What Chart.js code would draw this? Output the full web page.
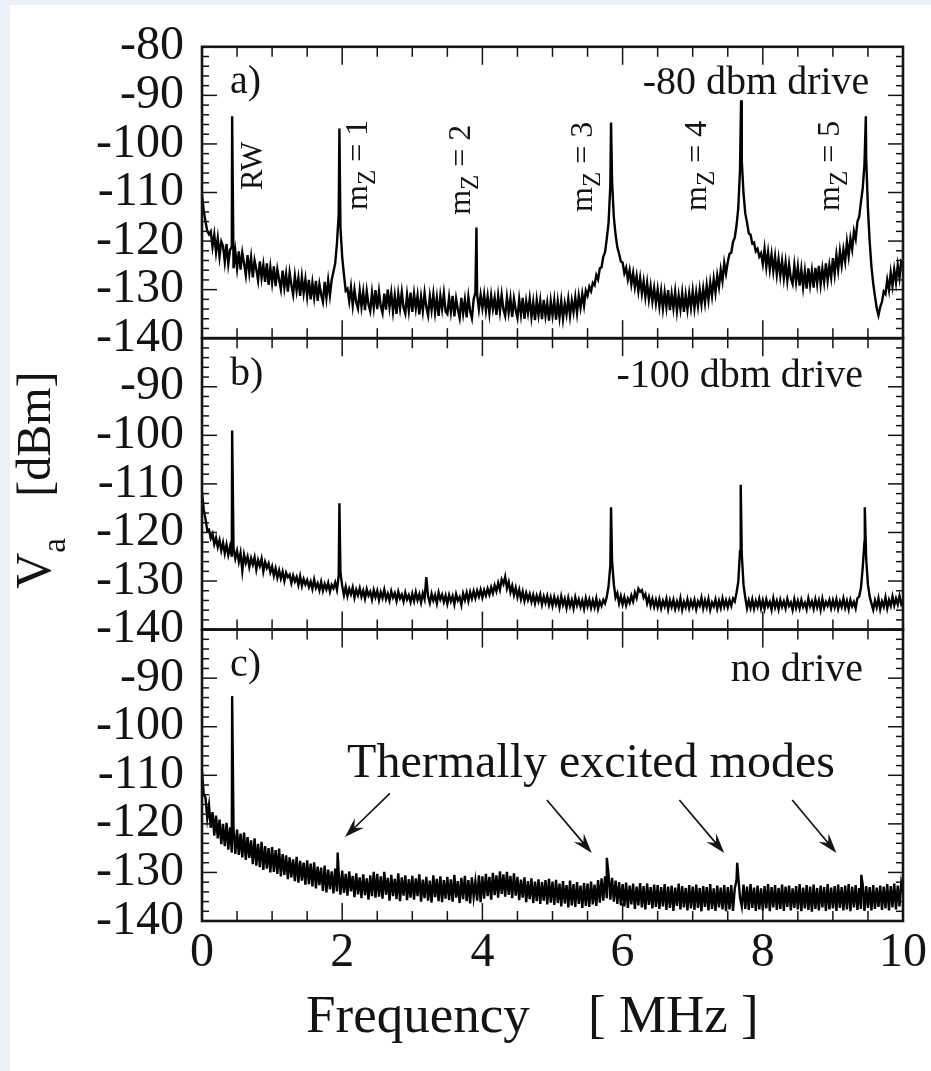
<!DOCTYPE html>
<html>
<head>
<meta charset="utf-8">
<title>Spectrum analyser traces</title>
<script src="https://cdn.jsdelivr.net/npm/chart.js@4.4.1/dist/chart.umd.min.js"></script>
<style>
  html, body { margin: 0; padding: 0; background: #eaf1f9; }
  #sheet { position: absolute; left: 10px; top: 5px; width: 921px; height: 1066px; background: #fff; }
  #wrap { position: absolute; left: 0; top: 0; width: 931px; height: 1071px; }
</style>
</head>
<body>
<div id="sheet"></div>
<div id="wrap"><canvas id="spectra" width="931" height="1071"></canvas></div>
<script>
// frequency axis, MHz: one sample every FREQ_STEP, 0 .. 10
const FREQ_STEP = 0.025;
const xTicks = [0, 2, 4, 6, 8, 10];
const yTicks = [-140, -130, -120, -110, -100, -90, -80];

// a) -80 dbm drive, level in dBm (one row = 0.5 MHz)
const levelA = [
  -110.5, -113.8, -116.0, -117.9, -118.6, -118.0, -121.2, -118.7, -122.3, -119.4, -123.2, -120.1, -121.0, -124.3, -120.6, -124.7, -121.8, -121.2, -125.6, -122.1,
  -125.6, -122.1, -125.9, -122.4, -124.6, -127.0, -122.9, -126.5, -123.4, -127.5, -124.0, -125.8, -128.1, -124.2, -127.6, -124.9, -128.4, -124.6, -129.0, -125.4,
  -128.6, -125.2, -129.3, -125.8, -127.9, -129.9, -126.1, -129.6, -126.8, -130.4, -126.5, -129.0, -131.0, -127.2, -130.2, -127.6, -131.3, -127.4, -130.7, -127.9,
  -131.4, -128.0, -132.0, -128.6, -131.6, -128.2, -132.3, -128.9, -131.0, -132.5, -128.4, -131.7, -128.1, -131.2, -128.0, -126.3, -124.6, -120.5, -114.5, -117.2,
  -123.3, -126.9, -130.2, -129.8, -132.4, -129.5, -133.2, -130.0, -132.6, -133.9, -130.2, -133.5, -130.5, -134.2, -130.3, -133.0, -134.4, -130.6, -133.7, -130.1,
  -134.0, -130.4, -133.4, -134.8, -130.8, -134.1, -130.0, -133.6, -130.7, -134.5, -131.3, -135.0, -130.9, -133.8, -130.5, -133.7, -134.9, -131.1, -134.3, -130.6,
  -134.6, -130.9, -133.9, -131.2, -135.1, -131.5, -134.4, -130.7, -133.6, -135.3, -131.4, -134.2, -131.0, -134.7, -131.7, -135.4, -131.3, -134.0, -130.8, -134.5,
  -135.0, -131.6, -134.6, -131.3, -135.5, -131.9, -134.1, -135.8, -131.7, -134.9, -132.1, -135.7, -131.5, -134.4, -135.9, -132.0, -130.6, -131.0, -134.0, -131.1,
  -133.8, -131.0, -134.3, -131.4, -134.8, -131.2, -134.0, -131.7, -135.2, -131.3, -134.5, -131.1, -134.1, -135.4, -131.6, -134.7, -131.8, -135.6, -131.9, -134.2,
  -135.8, -132.0, -135.1, -131.7, -136.0, -132.4, -134.8, -131.9, -135.6, -132.6, -136.3, -132.2, -135.2, -132.3, -136.1, -132.1, -135.4, -132.8, -136.4, -132.4,
  -135.3, -132.2, -136.2, -132.5, -135.7, -132.3, -136.0, -132.9, -135.1, -132.0, -135.4, -132.3, -134.6, -131.6, -134.8, -131.3, -133.7, -130.9, -133.3, -130.2,
  -131.2, -129.4, -130.3, -128.6, -129.1, -127.0, -127.9, -125.6, -125.4, -123.2, -122.3, -119.4, -116.2, -108.5, -107.8, -115.1, -118.7, -121.3, -122.6, -124.2,
  -124.4, -126.6, -125.5, -127.9, -126.0, -128.9, -126.6, -129.5, -127.2, -130.3, -127.6, -130.8, -128.3, -131.5, -128.6, -132.0, -129.3, -132.4, -129.7, -132.8,
  -130.0, -133.4, -130.3, -133.9, -130.6, -133.6, -130.1, -134.2, -130.9, -133.8, -130.5, -134.4, -131.2, -134.0, -130.7, -134.6, -131.1, -134.1, -130.8, -133.7,
  -130.3, -133.8, -130.6, -133.4, -130.0, -133.0, -129.8, -132.7, -129.1, -132.1, -128.6, -131.3, -127.8, -130.6, -127.1, -129.4, -125.9, -128.2, -124.5, -126.7,
  -124.3, -122.6, -122.4, -120.2, -119.3, -116.8, -113.2, -105.3, -103.4, -110.2, -114.3, -116.2, -118.4, -118.7, -120.5, -120.3, -122.1, -121.6, -123.2, -122.5,
  -124.7, -121.6, -125.3, -122.3, -125.8, -122.8, -126.2, -123.2, -126.9, -123.7, -127.1, -124.1, -127.6, -124.4, -128.1, -124.8, -127.7, -128.8, -125.0, -128.4,
  -125.3, -129.2, -125.8, -129.5, -126.2, -129.8, -125.6, -129.0, -126.1, -129.6, -125.5, -128.7, -125.1, -128.9, -125.7, -128.4, -124.6, -128.1, -125.0, -127.5,
  -123.5, -126.8, -122.9, -125.9, -122.1, -125.0, -121.8, -124.2, -120.2, -123.1, -119.5, -121.7, -118.0, -119.6, -116.0, -115.0, -112.0, -109.2, -104.3, -103.0,
  -113.4, -120.2, -125.3, -128.7, -131.4, -133.8, -135.3, -133.6, -132.5, -130.4, -130.9, -128.0, -130.1, -126.5, -129.2, -125.9, -128.5, -125.0, -127.6, -124.1,
  -124.5
];
// narrow peak tops [MHz, dBm]: RW, mZ = 1..5
const spikesA = [[0.43, -94.3], [1.96, -96.8], [3.915, -117.2], [5.835, -95.6], [7.69, -91.0], [9.47, -94.3]];

// b) -100 dbm drive
const levelB = [
  -111.8, -115.3, -117.2, -119.6, -119.4, -121.2, -120.3, -122.4, -121.1, -123.0, -121.6, -123.7, -122.1, -124.3, -122.5, -124.6, -122.9, -125.0, -123.3, -125.4,
  -123.8, -126.0, -124.2, -127.9, -124.6, -126.3, -125.0, -127.1, -125.3, -126.6, -125.1, -127.6, -125.7, -126.9, -125.4, -128.0, -126.1, -127.3, -126.4, -128.2,
  -127.0, -128.9, -127.4, -129.3, -127.8, -129.5, -128.1, -130.0, -128.3, -129.2, -128.7, -130.4, -128.9, -130.1, -129.2, -130.8, -129.0, -131.0, -129.6, -130.7,
  -129.8, -131.2, -130.1, -131.6, -129.7, -131.4, -130.5, -131.9, -130.2, -132.0, -130.6, -131.7, -130.4, -132.2, -130.8, -131.5, -130.3, -131.8, -128.9, -128.3,
  -131.0, -132.9, -131.2, -133.1, -131.6, -132.7, -131.3, -133.4, -131.8, -132.9, -131.5, -133.2, -132.0, -133.6, -131.7, -133.0, -132.2, -133.8, -131.9, -133.3,
  -132.0, -133.9, -132.3, -133.5, -131.8, -133.7, -132.6, -134.0, -132.1, -133.4, -132.5, -134.1, -132.2, -133.6, -132.8, -134.2, -132.4, -133.8, -132.9, -134.3,
  -132.6, -134.1, -132.3, -133.9, -132.7, -134.4, -132.5, -133.7, -129.2, -133.2, -134.5, -132.6, -134.0, -132.9, -134.6, -132.4, -133.8, -132.8, -134.3, -133.0,
  -134.7, -132.9, -134.2, -133.1, -134.8, -132.7, -134.0, -133.3, -134.9, -132.6, -133.9, -132.4, -134.1, -132.3, -133.6, -132.1, -133.5, -132.0, -133.2, -131.8,
  -133.4, -131.9, -133.0, -131.6, -132.8, -131.3, -132.5, -130.9, -132.1, -130.4, -131.8, -129.7, -130.6, -129.1, -131.5, -130.2, -132.3, -131.0, -132.9, -131.4,
  -133.3, -131.8, -133.7, -132.2, -134.1, -132.5, -133.9, -132.7, -134.3, -132.9, -134.6, -133.0, -134.2, -132.8, -134.8, -133.2, -134.5, -133.1, -134.9, -133.4,
  -135.1, -133.3, -134.8, -133.6, -135.4, -133.2, -134.9, -133.7, -135.5, -133.5, -135.2, -133.9, -135.6, -133.4, -135.0, -133.8, -135.3, -134.0, -135.7, -133.6,
  -135.2, -133.8, -135.5, -134.0, -135.4, -133.6, -135.7, -134.2, -135.1, -133.9, -134.6, -133.2, -131.0, -126.8, -125.9, -130.7, -133.4, -132.5, -134.6, -133.1,
  -134.8, -133.3, -135.0, -133.6, -134.5, -133.0, -134.2, -132.4, -133.5, -131.6, -132.2, -131.9, -133.4, -132.7, -134.6, -133.3, -135.1, -133.7, -135.3, -133.9,
  -135.4, -133.8, -135.6, -134.1, -135.2, -133.7, -135.8, -134.0, -135.3, -133.9, -135.7, -134.2, -135.5, -133.6, -135.9, -134.3, -135.4, -133.8, -135.6, -134.1,
  -135.3, -133.9, -135.8, -134.2, -135.1, -133.5, -135.6, -134.0, -135.4, -133.7, -135.9, -134.4, -135.2, -133.8, -135.7, -134.1, -135.5, -133.6, -135.3, -134.0,
  -135.4, -133.9, -135.1, -133.6, -134.2, -132.4, -130.2, -123.8, -124.5, -130.8, -133.4, -135.6, -134.0, -135.5, -133.8, -135.7, -134.1, -135.3, -133.7, -135.6,
  -134.0, -135.7, -133.8, -135.2, -134.3, -135.9, -133.6, -135.4, -134.1, -135.8, -133.9, -135.3, -134.2, -135.6, -133.7, -135.1, -134.4, -135.9, -133.8, -135.5,
  -134.1, -135.6, -133.9, -135.3, -134.5, -135.8, -133.6, -135.2, -134.2, -135.7, -133.8, -135.4, -134.0, -135.9, -133.7, -135.5, -134.3, -135.1, -133.9, -135.6,
  -134.0, -135.4, -133.8, -135.7, -134.2, -135.3, -133.6, -135.5, -134.1, -135.8, -133.9, -135.2, -134.3, -135.6, -133.5, -133.2, -131.4, -127.3, -122.0, -125.5,
  -130.8, -133.2, -134.6, -135.9, -134.0, -135.4, -133.6, -135.8, -134.2, -135.3, -133.4, -135.6, -133.9, -135.1, -133.2, -135.0, -133.6, -134.8, -133.1, -134.7,
  -133.8
];
const spikesB = [[0.43, -99.0], [1.96, -114.0], [5.835, -114.8], [7.685, -110.2], [9.455, -114.8]];

// c) no drive
const levelC = [
  -109.2, -114.0, -114.6, -118.9, -116.2, -120.8, -117.6, -122.4, -118.3, -123.0, -119.1, -124.2, -120.0, -124.6, -119.8, -125.3, -120.7, -125.9, -121.0, -126.2,
  -121.2, -126.4, -122.0, -126.9, -121.8, -127.4, -122.7, -127.0, -123.4, -128.3, -123.0, -128.6, -124.1, -128.9, -123.7, -129.5, -124.6, -129.2, -125.0, -130.0,
  -124.8, -129.9, -125.4, -130.3, -125.1, -130.8, -126.2, -130.5, -126.5, -131.4, -126.9, -131.0, -127.3, -131.8, -126.8, -132.1, -127.6, -131.7, -128.0, -132.5,
  -127.5, -132.4, -128.2, -132.9, -127.9, -133.3, -128.8, -132.6, -129.0, -133.8, -128.6, -134.1, -129.4, -133.5, -129.8, -134.3, -129.2, -133.9, -130.1, -134.6,
  -129.6, -134.2, -130.3, -134.8, -129.8, -133.9, -130.7, -135.1, -130.2, -134.5, -131.0, -135.3, -130.4, -134.7, -131.2, -135.6, -130.6, -134.9, -129.9, -135.2,
  -130.3, -135.0, -130.8, -135.4, -129.9, -134.6, -131.1, -135.8, -130.5, -134.9, -131.3, -135.5, -130.2, -135.9, -131.0, -134.8, -130.6, -135.7, -131.4, -135.2,
  -130.7, -135.6, -131.2, -134.9, -130.4, -136.0, -131.5, -135.3, -130.9, -135.8, -131.7, -136.2, -130.6, -135.1, -131.3, -135.9, -130.8, -136.1, -131.6, -135.4,
  -130.9, -135.7, -131.4, -136.0, -130.5, -135.2, -131.8, -136.3, -131.1, -135.5, -130.7, -135.9, -131.6, -136.4, -131.0, -135.0, -131.9, -135.8, -130.6, -136.1,
  -130.8, -135.4, -130.3, -134.9, -130.9, -135.6, -130.1, -134.7, -130.6, -135.2, -129.8, -134.4, -130.4, -135.0, -129.9, -134.6, -130.7, -135.3, -130.2, -134.8,
  -130.9, -135.7, -131.5, -135.2, -131.0, -136.1, -131.8, -135.5, -131.2, -136.3, -131.9, -135.9, -131.4, -136.5, -132.0, -135.8, -131.6, -136.6, -131.3, -136.2,
  -131.9, -136.7, -131.5, -136.3, -132.3, -137.0, -131.8, -136.4, -132.6, -137.2, -131.7, -136.8, -132.4, -137.1, -132.0, -136.5, -132.7, -137.3, -132.2, -136.9,
  -132.3, -137.1, -131.9, -136.6, -132.5, -136.9, -131.6, -136.2, -131.2, -135.8, -130.8, -135.3, -130.5, -135.6, -131.1, -136.0, -131.7, -136.5, -132.0, -136.8,
  -132.4, -137.0, -132.1, -137.3, -132.7, -136.6, -132.3, -137.5, -132.9, -136.8, -132.2, -137.2, -132.8, -137.6, -132.3, -136.7, -133.0, -137.4, -132.5, -137.1,
  -132.6, -137.5, -133.0, -137.0, -132.4, -137.7, -132.9, -137.3, -132.7, -137.9, -133.1, -136.9, -132.3, -137.6, -132.8, -137.2, -133.2, -137.8, -132.6, -137.4,
  -132.9, -137.7, -132.5, -137.3, -133.2, -138.0, -132.8, -137.1, -133.0, -137.8, -132.4, -137.5, -133.3, -137.9, -132.7, -137.2, -133.1, -137.6, -132.6, -138.0,
  -133.0, -137.6, -132.6, -137.9, -133.3, -131.6, -130.9, -135.2, -137.0, -132.5, -137.5, -132.9, -137.7, -132.4, -137.3, -133.1, -137.9, -132.7, -137.6, -133.3,
  -137.8, -132.8, -137.4, -132.4, -138.0, -133.0, -137.2, -132.6, -137.7, -133.2, -137.5, -132.5, -137.9, -132.9, -137.1, -132.7, -137.8, -133.3, -137.3, -132.8,
  -137.6, -132.4, -138.0, -133.1, -137.4, -132.6, -137.7, -132.9, -138.1, -132.5, -137.5, -133.2, -137.8, -132.7, -137.2, -133.0, -137.9, -132.4, -137.6, -133.1,
  -137.4, -132.8, -137.9, -132.5, -137.3, -133.0, -137.8, -132.7, -137.6, -132.4, -138.0, -132.9, -137.2, -132.6, -137.7, -133.2, -137.5, -132.5, -137.9, -132.8,
  -137.3, -133.0, -137.8, -132.6, -137.5, -133.1, -137.1, -132.7, -137.7, -132.9, -137.4, -132.4, -137.8, -132.8, -137.2, -132.3, -137.6, -132.7, -137.0, -132.2,
  -134.0
];
const spikesC = [[0.43, -93.7], [1.935, -125.9], [5.775, -127.0], [7.635, -128.0], [9.405, -130.5]];

const panelNames = ['a)', 'b)', 'c)'];
const driveNames = ['-80 dbm drive', '-100 dbm drive', 'no drive'];
const modeNames = ['RW', '1', '2', '3', '4', '5'];

const Y_MIN = -140, Y_MAX = -80;
const INK = '#141414';
const SERIF = '"Liberation Serif", "DejaVu Serif", serif';

// merge the sampled trace with its peak tops, sorted by frequency
function buildSeries(levels, spikes) {
    const pts = levels.map((v, i) => ({ x: i * FREQ_STEP, y: v }));
    spikes.forEach(([f, v]) => pts.push({ x: f, y: v }));
    return pts.sort((a, b) => a.x - b.x);
}

function panelAxis(hideTop) {
    return {
        type: 'linear',
        position: 'left',
        stack: 'panels',
        stackWeight: 1,
        min: Y_MIN,
        max: Y_MAX,
        offset: false,
        grid: { display: false, drawTicks: false },
        border: { display: false },
        afterBuildTicks: s => { s.ticks = yTicks.map(v => ({ value: v })); },
        ticks: {
            autoSkip: false,
            padding: 18,
            color: INK,
            font: { family: SERIF, size: 48 },
            callback: v => (hideTop && v === Y_MAX) ? '' : String(v)
        },
        afterFit: s => { s.width = 202; }
    };
}

// layout of the text and arrows, in data units of each panel
const noteSpots = {
    panelLabel: { x: 0.40, y: -89.6 },
    drive: [{ x: 9.52, y: -89.8 }, { x: 9.43, y: -90.1 }, { x: 9.43, y: -90.5 }],
    modes: [{ x: 0.85, y: -109.5 }, { x: 2.35, y: -113.6 }, { x: 3.82, y: -114.6 },
            { x: 5.56, y: -114.0 }, { x: 7.19, y: -113.8 }, { x: 9.09, y: -113.8 }],
    thermal: { x: 2.07, y: -110.4 },
    arrows: [[2.68, -113.7, 2.04, -122.7], [4.92, -115.1, 5.56, -126.0],
             [6.81, -115.1, 7.45, -126.0], [8.42, -115.1, 9.05, -126.0]]
};

function line(ctx, x1, y1, x2, y2) {
    ctx.beginPath();
    ctx.moveTo(x1, y1);
    ctx.lineTo(x2, y2);
    ctx.stroke();
}

function arrow(ctx, x1, y1, x2, y2) {
    const a = Math.atan2(y2 - y1, x2 - x1);
    const len = 20, half = 6.5;
    line(ctx, x1, y1, x2 - Math.cos(a) * 10, y2 - Math.sin(a) * 10);
    ctx.save();
    ctx.translate(x2, y2);
    ctx.rotate(a);
    ctx.beginPath();
    ctx.moveTo(0, 0);
    ctx.lineTo(-len, -half);
    ctx.lineTo(-len + 7, 0);
    ctx.lineTo(-len, half);
    ctx.closePath();
    ctx.fill();
    ctx.restore();
}

// frame, inward ticks on all four sides, and the text of each panel
const framePlugin = {
    id: 'framePlugin',
    afterDatasetsDraw(chart) {
        const ctx = chart.ctx;
        const xs = chart.scales.x;
        const panels = [chart.scales.yA, chart.scales.yB, chart.scales.yC];
        ctx.save();
        ctx.strokeStyle = INK;
        ctx.fillStyle = INK;

        panels.forEach((ys, k) => {
            const l = xs.left, r = xs.right, t = ys.top, b = ys.bottom;
            ctx.lineWidth = 1.5;
            for (let v = Y_MIN; v <= Y_MAX; v += 2) {
                const py = ys.getPixelForValue(v);
                const len = v % 10 === 0 ? 15 : 7;
                line(ctx, l, py, l + len, py);
                line(ctx, r, py, r - len, py);
            }
            for (let f = 0; f <= 10; f += 0.5) {
                const px = xs.getPixelForValue(f);
                const len = f % 2 === 0 ? 18 : 10;
                line(ctx, px, t, px, t + len);
                line(ctx, px, b, px, b - len);
            }
            ctx.lineWidth = 2.6;
            ctx.strokeRect(l, t, r - l, b - t);

            ctx.textBaseline = 'alphabetic';
            ctx.font = '40px ' + SERIF;
            ctx.textAlign = 'left';
            ctx.fillText(panelNames[k], xs.getPixelForValue(noteSpots.panelLabel.x), ys.getPixelForValue(noteSpots.panelLabel.y));
            ctx.textAlign = 'right';
            const d = noteSpots.drive[k];
            ctx.fillText(driveNames[k], xs.getPixelForValue(d.x), ys.getPixelForValue(d.y));
        });

        // rotated peak names in panel a
        const ya = chart.scales.yA;
        ctx.textAlign = 'left';
        noteSpots.modes.forEach((p, i) => {
            ctx.save();
            ctx.translate(xs.getPixelForValue(p.x), ya.getPixelForValue(p.y));
            ctx.rotate(-Math.PI / 2);
            if (i === 0) {
                ctx.font = '31px ' + SERIF;
                ctx.fillText(modeNames[0], 0, 0);
            } else {
                ctx.font = '32px ' + SERIF;
                ctx.fillText('m', 0, 0);
                let cx = ctx.measureText('m').width;
                ctx.font = '25px ' + SERIF;
                ctx.fillText('Z', cx, 8);
                cx += ctx.measureText('Z').width;
                ctx.font = '32px ' + SERIF;
                ctx.fillText(' = ' + modeNames[i], cx, 0);
            }
            ctx.restore();
        });

        // thermal note and arrows in panel c
        const yc = chart.scales.yC;
        ctx.font = '48px ' + SERIF;
        ctx.fillText('Thermally excited modes', xs.getPixelForValue(noteSpots.thermal.x), yc.getPixelForValue(noteSpots.thermal.y));
        ctx.lineWidth = 1.7;
        noteSpots.arrows.forEach(([f1, v1, f2, v2]) => {
            arrow(ctx, xs.getPixelForValue(f1), yc.getPixelForValue(v1), xs.getPixelForValue(f2), yc.getPixelForValue(v2));
        });

        // axis titles
        const area = chart.chartArea;
        ctx.font = '53px ' + SERIF;
        ctx.fillText('Frequency', area.left + 104, area.bottom + 111);
        ctx.fillText('[ MHz ]', area.left + 386, area.bottom + 111);

        ctx.save();
        ctx.translate(50, area.top + 542);
        ctx.rotate(-Math.PI / 2);
        ctx.font = '50px ' + SERIF;
        ctx.fillText('V', 0, 0);
        const vw = ctx.measureText('V').width;
        ctx.font = '33px ' + SERIF;
        ctx.fillText('a', vw, 15);
        ctx.font = '48px ' + SERIF;
        ctx.fillText('[dBm]', 92, 0);
        ctx.restore();

        ctx.restore();
    }
};

const traceStyle = {
    borderColor: '#000',
    borderWidth: 2.4,
    pointRadius: 0,
    fill: false,
    tension: 0
};

new Chart(document.getElementById('spectra'), {
    type: 'line',
    data: {
        datasets: [
            { ...traceStyle, label: panelNames[0], data: buildSeries(levelA, spikesA), yAxisID: 'yA' },
            { ...traceStyle, label: panelNames[1], data: buildSeries(levelB, spikesB), yAxisID: 'yB' },
            { ...traceStyle, label: panelNames[2], data: buildSeries(levelC, spikesC), yAxisID: 'yC' }
        ]
    },
    options: {
        responsive: false,
        animation: false,
        devicePixelRatio: 1,
        layout: { padding: { top: 43, right: 27, left: 0, bottom: 0 } },
        plugins: { legend: { display: false }, tooltip: { enabled: false } },
        scales: {
            x: {
                type: 'linear',
                min: 0,
                max: 10,
                grid: { display: false, drawTicks: false },
                border: { display: false },
                afterBuildTicks: s => { s.ticks = xTicks.map(v => ({ value: v })); },
                ticks: { autoSkip: false, maxRotation: 0, padding: 4, color: INK, font: { family: SERIF, size: 48 } },
                afterFit: s => { s.height = 150; }
            },
            // later keys are stacked higher, so c is listed first
            yC: panelAxis(true),
            yB: panelAxis(true),
            yA: panelAxis(false)
        }
    },
    plugins: [framePlugin]
});
</script>
</body>
</html>
